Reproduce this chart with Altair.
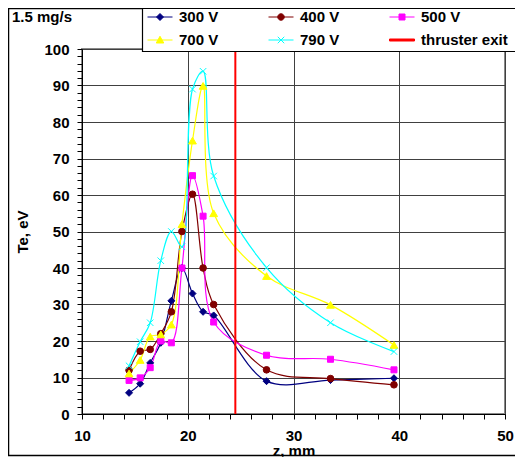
import altair as alt
import pandas as pd

# ---- data ----
z_mm = [14.45, 15.5, 16.45, 17.45, 18.45, 19.45, 20.45, 21.45, 22.45, 27.45, 33.5, 39.5]
te_300 = [5.8, 8.3, 14.0, 19.5, 31.0, 40.0, 33.0, 28.0, 27.0, 9.0, 9.3, 9.8]
te_400 = [12.0, 17.2, 17.7, 22.0, 28.0, 50.0, 60.2, 40.0, 30.0, 12.1, 9.7, 8.0]
te_500 = [9.2, 9.9, 12.7, 20.0, 19.5, 40.0, 65.3, 54.2, 25.2, 16.1, 15.0, 12.1]
te_700 = [11.1, 14.8, 21.2, 21.8, 24.5, 52.0, 74.9, 89.9, 55.0, 37.8, 29.9, 18.9]
te_790 = [13.2, 19.8, 25.0, 42.0, 50.0, 45.8, 89.0, 93.9, 65.2, 40.1, 25.0, 17.1]
series_names = ["300 V", "400 V", "500 V", "700 V", "790 V"]
exit_name = "thruster exit"
thruster_exit_z = [24.5]
x_ticks = list(range(10, 51, 2))
y_ticks = list(range(0, 101, 2))
flow_label = ["1.5 mg/s"]

# ---- styles ----
series_colors = ["#000080", "#800000", "#FF00FF", "#FFFF00", "#00FFFF"]
exit_color = "#FF0000"
plot_shapes = ["diamond", "circle", "square", "triangle-up", "M-1,-1L1,1M-1,1L1,-1"]
plot_sizes = [49, 44, 36, 60, 42]
legend_paths = [
    "M-1,0H1M0,-0.28L0.28,0L0,0.28L-0.28,0Z",
    "M-1,0H1M-0.26,0A0.26,0.26 0 1,0 0.26,0A0.26,0.26 0 1,0 -0.26,0Z",
    "M-1,0H1M-0.24,-0.24H0.24V0.24H-0.24Z",
    "M-1,0H1M0,-0.3L0.3,0.24H-0.3Z",
    "M-1,0H1M-0.26,-0.26L0.26,0.26M-0.26,0.26L0.26,-0.26",
    "M-1,-0.08H1V0.08H-1Z",
]
FONT = "Liberation Sans"

rows = []
for name, vals in zip(series_names, [te_300, te_400, te_500, te_700, te_790]):
    for zz, t in zip(z_mm, vals):
        rows.append({"series": name, "z": zz, "te": t})
df = pd.DataFrame(rows)

legend_names = series_names + [exit_name]
legend_colors = series_colors + [exit_color]

x_scale = alt.Scale(domain=[10, 50], nice=False, zero=False)
y_scale = alt.Scale(domain=[0, 100], nice=False)

x_axis = alt.Axis(
    values=x_ticks,
    labelExpr="datum.value % 10 == 0 ? datum.label : ''",
    grid=True,
    gridColor="#404040",
    gridOpacity={"condition": {"test": "datum.value % 10 != 0", "value": 0}, "value": 1},
    tickSize=5,
    labelPadding=9,
    labelOverlap=False,
    labelFlush=False,
    title="z, mm",
    titleY=41,
    titleBaseline="alphabetic",
)
y_axis = alt.Axis(
    values=y_ticks,
    labelExpr="datum.value % 10 == 0 ? datum.label : ''",
    grid=True,
    gridColor="#404040",
    gridOpacity={"condition": {"test": "datum.value % 10 != 0", "value": 0}, "value": 1},
    tickSize=5,
    labelPadding=8,
    labelOverlap=False,
    labelFlush=False,
    title="Te, eV",
    titleX=-60,
    titleBaseline="middle",
)

x_enc = alt.X("z:Q", scale=x_scale, axis=x_axis)
y_enc = alt.Y("te:Q", scale=y_scale, axis=y_axis)

color_scale = alt.Scale(domain=legend_names, range=legend_colors)
shape_scale = alt.Scale(domain=legend_names, range=legend_paths)

leg = alt.Legend(
    title=None,
    orient="none",
    direction="horizontal",
    legendX=65,
    legendY=-45,
    columns=3,
    columnPadding=47,
    rowPadding=2,
    padding=0,
    labelFont=FONT,
    labelFontSize=15,
    labelFontWeight="bold",
    labelColor="black",
    labelOffset=6,
    labelLimit=300,
    symbolSize=625,
    symbolStrokeWidth=1,
    symbolOpacity=1,
)

frame = alt.Chart(pd.DataFrame({"k": [0]})).mark_rect(
    fillOpacity=0, stroke="black", strokeWidth=1.5, clip=False
).encode(
    x=alt.value(-73.5), x2=alt.value(440), y=alt.value(-40.5), y2=alt.value(406.5)
)

lines = alt.Chart(df).mark_line(interpolate="catmull-rom", strokeWidth=1.2).encode(
    x=x_enc,
    y=y_enc,
    stroke=alt.Stroke("series:N", scale=color_scale, legend=leg),
)

layers = [frame, lines]

rule = alt.Chart(pd.DataFrame({"z": thruster_exit_z})).mark_rule(
    color=exit_color, strokeWidth=2
).encode(x=x_enc)
layers.append(rule)

for name, shp, sz, col in zip(series_names, plot_shapes, plot_sizes, series_colors):
    pts = alt.Chart(df).transform_filter(alt.datum.series == name).mark_point(
        shape=shp, size=sz, filled=True, opacity=1, fill=col, stroke=col, strokeWidth=1
    ).encode(x=x_enc, y=y_enc)
    layers.append(pts)

flow = alt.Chart(pd.DataFrame({"label": flow_label})).mark_text(
    align="left", baseline="alphabetic", font=FONT, fontSize=15, fontWeight="bold", color="black"
).encode(x=alt.value(-70), y=alt.value(-27), text="label:N")
layers.append(flow)

# white box behind the legend entries
legend_box = alt.Chart(pd.DataFrame({"k": [0]})).mark_rect(
    fill="white", stroke="black", strokeWidth=1.2, clip=False
).encode(
    x=alt.value(60.5), x2=alt.value(460), y=alt.value(-40.5), y2=alt.value(2.5)
)
layers.append(legend_box)

legend_layer = alt.Chart(pd.DataFrame({"series": legend_names})).mark_point(
    filled=True, opacity=0
).encode(
    fill=alt.Fill("series:N", scale=color_scale, legend=leg),
    stroke=alt.Stroke("series:N", scale=color_scale, legend=leg),
    shape=alt.Shape("series:N", scale=shape_scale, legend=leg),
)
layers.append(legend_layer)

chart = alt.layer(*layers).properties(
    width=423,
    height=365,
    autosize=alt.AutoSizeParams(type="none"),
    padding={"left": 74, "top": 41, "right": 10, "bottom": 43},
    background="white",
).configure_view(
    stroke="#888888", strokeWidth=2
).configure_axis(
    domainColor="black",
    domainWidth=1,
    tickColor="black",
    tickWidth=1,
    labelFont=FONT,
    labelFontSize=15,
    labelFontWeight="bold",
    labelColor="black",
    titleFont=FONT,
    titleFontSize=15,
    titleFontWeight="bold",
    titleColor="black",
)

chart.save("out.html", embed_options={"renderer": "svg", "actions": False})
